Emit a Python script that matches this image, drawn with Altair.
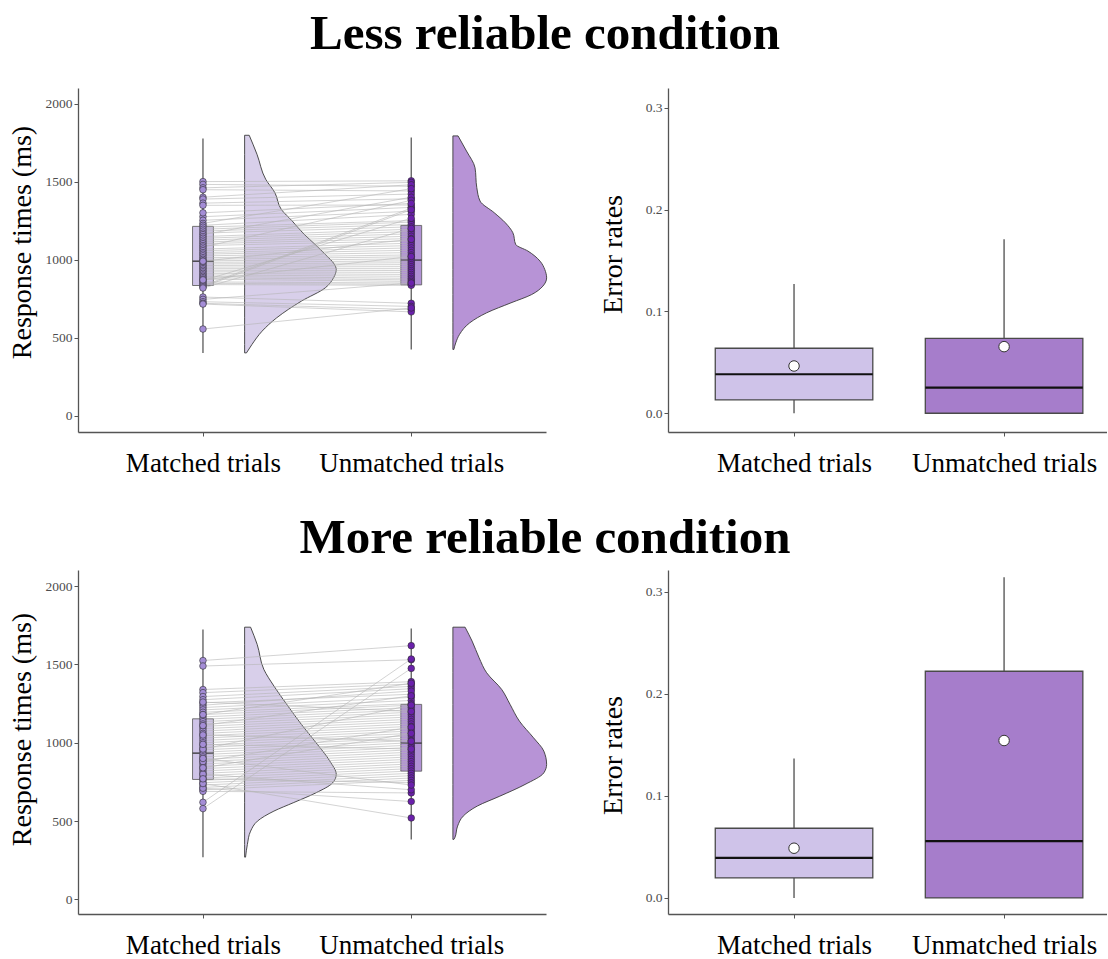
import altair as alt
import pandas as pd

FONT = "Liberation Serif"
CATS = ["Matched trials", "Unmatched trials"]
CAT_POS = [1, 2]

# ---------------- participant mean RTs (ms), paired by index ----------------
less_rt_matched = [1500, 1482, 1460, 1448, 1400, 1388, 1362, 1348, 1275, 1252,
                   1232, 1220, 1208, 1195, 1183, 1170, 1160, 1148, 1137, 1125,
                   1113, 1102, 1090, 1080, 1068, 1057, 1045, 1035, 1024, 1012,
                   1002, 992, 982, 972, 962, 952, 942, 932, 922, 912,
                   902, 893, 884, 875, 866, 857, 848, 840, 832, 825,
                   818, 760, 745, 730, 720, 715, 555, 1300, 990, 870]
less_rt_unmatched = [1505, 1470, 1495, 1440, 1480, 1420, 1390, 1350, 1335, 1310,
                     1455, 1290, 1250, 1240, 1225, 1210, 1400, 1195, 1180, 1165,
                     1150, 1135, 1120, 1380, 1105, 1090, 1075, 1060, 1045, 1030,
                     1018, 1005, 992, 980, 968, 955, 942, 930, 918, 905,
                     893, 880, 870, 860, 1265, 850, 842, 835, 1330, 1320,
                     1200, 720, 850, 700, 680, 665, 690, 1360, 1130, 1020]
more_rt_matched = [1525, 1490, 1340, 1320, 1295, 1275, 1255, 1240, 1225, 1210,
                   1195, 1180, 1165, 1150, 1135, 1120, 1105, 1090, 1075, 1060,
                   1045, 1030, 1015, 1000, 985, 970, 955, 940, 925, 910,
                   895, 880, 865, 850, 835, 820, 805, 790, 775, 760,
                   745, 730, 715, 700, 690, 620, 580, 710, 740, 800,
                   1110, 960, 880, 1050, 770, 900, 1180, 840, 990, 1260]
more_rt_unmatched = [1620, 1530, 1390, 1375, 1360, 1345, 1310, 1330, 1290, 1270,
                     1250, 1240, 1225, 1210, 1195, 1180, 1165, 1150, 1135, 1120,
                     1105, 1090, 1075, 1060, 1045, 1030, 1015, 1000, 985, 970,
                     955, 940, 925, 910, 895, 880, 865, 850, 835, 820,
                     805, 790, 775, 760, 680, 1535, 1475, 625, 520, 700,
                     1300, 1240, 1100, 1010, 745, 730, 1380, 1060, 960, 1200]

# RT box statistics: [lower whisker, q1, median, q3, upper whisker]
less_rt_box_matched = [402, 834, 990, 1213, 1777]
less_rt_box_unmatched = [424, 838, 997, 1219, 1782]
more_rt_box_matched = [270, 766, 934, 1153, 1723]
more_rt_box_unmatched = [383, 819, 998, 1245, 1730]

# Half-violin outlines: RT value and relative half-width (1 = widest)
less_vio_matched_y = [1797, 1675, 1515, 1429, 1322, 1247, 1162, 1097, 1033, 969,
                      937, 883, 819, 734, 627, 541, 456, 402]
less_vio_matched_w = [0.05, 0.135, 0.23, 0.33, 0.40, 0.52, 0.65, 0.77, 0.88, 0.98,
                      1.0, 0.97, 0.88, 0.62, 0.35, 0.19, 0.08, 0.02]
less_vio_unmatched_y = [1793, 1696, 1589, 1461, 1375, 1301, 1236, 1172, 1097, 1055,
                        990, 937, 883, 830, 776, 723, 659, 595, 520, 466, 424]
less_vio_unmatched_w = [0.055, 0.145, 0.236, 0.255, 0.29, 0.44, 0.56, 0.64, 0.67, 0.80,
                        0.93, 0.98, 1.0, 0.96, 0.84, 0.62, 0.36, 0.18, 0.07, 0.03, 0.01]
more_vio_matched_y = [1738, 1628, 1468, 1362, 1245, 1117, 1000, 883, 798, 744,
                      681, 617, 564, 500, 436, 351, 270]
more_vio_matched_w = [0.065, 0.137, 0.21, 0.32, 0.46, 0.62, 0.78, 0.93, 1.0, 0.96,
                      0.78, 0.53, 0.32, 0.14, 0.065, 0.03, 0.01]
more_vio_unmatched_y = [1738, 1649, 1542, 1447, 1341, 1245, 1138, 1032, 947, 862,
                        808, 734, 659, 596, 532, 468, 393, 383]
more_vio_unmatched_w = [0.13, 0.205, 0.28, 0.36, 0.52, 0.61, 0.71, 0.86, 0.97, 1.0,
                        0.97, 0.77, 0.50, 0.26, 0.11, 0.05, 0.02, 0.01]

# Error-rate box statistics: [lower whisker, q1, median, q3, upper whisker]
less_err_matched = [0.0, 0.0131, 0.0383, 0.0638, 0.127]
less_err_unmatched = [0.0, 0.0, 0.0251, 0.0736, 0.1707]
less_err_means = [0.0464, 0.0654]
more_err_matched = [0.0, 0.0196, 0.0392, 0.0683, 0.1366]
more_err_unmatched = [0.0, 0.0, 0.0556, 0.2222, 0.3144]
more_err_means = [0.0487, 0.1543]

# ---------------- styling ----------------
PT_COLORS = ["#a48dd6", "#6a20ab"]
RTBOX_COLORS = ["#c7bae4", "#a57fd0"]
VIO_COLORS = ["#d8cfea", "#b793d6"]
ERRBOX_COLORS = ["#cfc3e9", "#a67dcb"]
AXIS_GREY = "#555555"

L_W, R_W, H = 468, 439, 344
L_XDOM = [0.4, 2.647]
R_XDOM = [0.4, 2.49]
VIO_OFFSET = 0.2
VIO_WIDTH = [0.44, 0.45]
RT_BOX_HALF = 0.05
ERR_BOX_HALF = 0.375

label_expr = "datum.value == 1 ? 'Matched trials' : 'Unmatched trials'"


def x_enc(field, dom):
    return alt.X(field, type="quantitative", stack=False,
                 scale=alt.Scale(domain=dom, nice=False, zero=False),
                 axis=alt.Axis(values=CAT_POS, labelExpr=label_expr, title=None,
                               grid=False, labelFontSize=27, labelColor="black",
                               labelFont=FONT, labelPadding=14, tickSize=4,
                               labelLimit=0, domainColor=AXIS_GREY, tickColor=AXIS_GREY,
                               domainWidth=1.3, labelFlush=False))


def cscale(colors):
    return alt.Color("cond:N", scale=alt.Scale(domain=CATS, range=colors), legend=None)


def rt_panel(matched, unmatched, box_m, box_u, vy_m, vw_m, vy_u, vw_u, ydom,
             title, title_offset, ytitle_y):
    n = len(matched)
    pts = pd.DataFrame({
        "pid": list(range(n)) * 2,
        "x": [CAT_POS[0]] * n + [CAT_POS[1]] * n,
        "rt": matched + unmatched,
        "cond": [CATS[0]] * n + [CATS[1]] * n,
    })
    boxes = pd.DataFrame({
        "cond": CATS,
        "x": CAT_POS,
        "xl": [p - RT_BOX_HALF for p in CAT_POS],
        "xr": [p + RT_BOX_HALF for p in CAT_POS],
        "lo": [box_m[0], box_u[0]], "q1": [box_m[1], box_u[1]],
        "med": [box_m[2], box_u[2]], "q3": [box_m[3], box_u[3]],
        "hi": [box_m[4], box_u[4]],
    })
    yscale = alt.Scale(domain=ydom, nice=False, zero=False)
    yaxis = alt.Axis(values=[0, 500, 1000, 1500, 2000], format="d", grid=False,
                     title="Response times (ms)", titleFont=FONT, titleFontSize=28,
                     titleFontWeight="normal", titleColor="black",
                     titleAngle=-90, titleBaseline="alphabetic", titleAlign="center",
                     titleX=-48, titleY=ytitle_y,
                     labelFont=FONT, labelFontSize=13.5, labelColor="#4d4d4d",
                     labelPadding=2, tickSize=4, domainColor=AXIS_GREY,
                     tickColor=AXIS_GREY, domainWidth=1.3)

    violins = []
    for i, (ys, ws) in enumerate([(vy_m, vw_m), (vy_u, vw_u)]):
        vdf = pd.DataFrame({
            "y": ys,
            "base": [CAT_POS[i] + VIO_OFFSET] * len(ys),
            "tip": [CAT_POS[i] + VIO_OFFSET + w * VIO_WIDTH[i] for w in ws],
        })
        violins.append(
            alt.Chart(vdf).mark_area(orient="horizontal", fill=VIO_COLORS[i],
                                     stroke="#3a3a3a", strokeWidth=0.9,
                                     fillOpacity=1, interpolate="monotone").encode(
                y=alt.Y("y:Q", scale=yscale, axis=yaxis),
                x=x_enc("tip", L_XDOM), x2="base:Q"))

    whisk = alt.Chart(boxes).mark_rule(color="#5a5a5a", strokeWidth=1.3).encode(
        x=x_enc("x", L_XDOM), y=alt.Y("lo:Q", scale=yscale, axis=yaxis), y2="hi:Q")
    box = alt.Chart(boxes).mark_bar(stroke="#4a4a4a", strokeWidth=0.9, opacity=0.85).encode(
        x=x_enc("xl", L_XDOM), x2="xr:Q",
        y=alt.Y("q1:Q", scale=yscale, axis=yaxis), y2="q3:Q",
        color=cscale(RTBOX_COLORS))
    med = alt.Chart(boxes).mark_rule(color="#333333", strokeWidth=1.3).encode(
        x=x_enc("xl", L_XDOM), x2="xr:Q", y=alt.Y("med:Q", scale=yscale, axis=yaxis))
    lines = alt.Chart(pts).mark_line(color="#b5b5b5", strokeWidth=1, opacity=0.6).encode(
        x=x_enc("x", L_XDOM), y=alt.Y("rt:Q", scale=yscale, axis=yaxis),
        detail="pid:N", order="x:Q")
    dots = alt.Chart(pts).mark_circle(size=44, stroke="#2e2e2e", strokeWidth=0.6,
                                      opacity=1).encode(
        x=x_enc("x", L_XDOM), y=alt.Y("rt:Q", scale=yscale, axis=yaxis),
        color=cscale(PT_COLORS))
    layer = alt.layer(*violins, whisk, box, med, lines, dots).resolve_scale(
        color="independent").properties(
        width=L_W, height=H,
        title=alt.TitleParams(
            text=title, font=FONT, fontSize=49, fontWeight="bold", color="black",
            anchor="middle", frame="group", dx=233, offset=title_offset,
            baseline="alphabetic"))
    return layer


def err_panel(stat_m, stat_u, means, ydom, title_y):
    boxes = pd.DataFrame({
        "cond": CATS,
        "x": CAT_POS,
        "xl": [p - ERR_BOX_HALF for p in CAT_POS],
        "xr": [p + ERR_BOX_HALF for p in CAT_POS],
        "lo": [stat_m[0], stat_u[0]], "q1": [stat_m[1], stat_u[1]],
        "med": [stat_m[2], stat_u[2]], "q3": [stat_m[3], stat_u[3]],
        "hi": [stat_m[4], stat_u[4]], "mean": means,
    })
    yscale = alt.Scale(domain=ydom, nice=False, zero=False)
    yaxis = alt.Axis(values=[0, 0.1, 0.2, 0.3], format=".1f", grid=False,
                     title="Error rates", titleFont=FONT, titleFontSize=28,
                     titleFontWeight="normal", titleColor="black",
                     titleAngle=-90, titleBaseline="alphabetic", titleAlign="center",
                     titleX=-47, titleY=title_y,
                     labelFont=FONT, labelFontSize=13.5, labelColor="#4d4d4d",
                     labelPadding=2, tickSize=4, domainColor=AXIS_GREY,
                     tickColor=AXIS_GREY, domainWidth=1.3)
    whisk = alt.Chart(boxes).mark_rule(color="#5a5a5a", strokeWidth=1.4).encode(
        x=x_enc("x", R_XDOM), y=alt.Y("lo:Q", scale=yscale, axis=yaxis), y2="hi:Q")
    box = alt.Chart(boxes).mark_bar(stroke="#4a4a4a", strokeWidth=1.3, opacity=1).encode(
        x=x_enc("xl", R_XDOM), x2="xr:Q",
        y=alt.Y("q1:Q", scale=yscale, axis=yaxis), y2="q3:Q",
        color=cscale(ERRBOX_COLORS))
    med = alt.Chart(boxes).mark_rule(color="#111111", strokeWidth=2.2).encode(
        x=x_enc("xl", R_XDOM), x2="xr:Q", y=alt.Y("med:Q", scale=yscale, axis=yaxis))
    mean = alt.Chart(boxes).mark_circle(size=110, color="white", stroke="#333333",
                                        strokeWidth=1, opacity=1).encode(
        x=x_enc("x", R_XDOM), y=alt.Y("mean:Q", scale=yscale, axis=yaxis))
    return alt.layer(whisk, box, med, mean).properties(width=R_W, height=H)


L1 = rt_panel(less_rt_matched, less_rt_unmatched, less_rt_box_matched, less_rt_box_unmatched,
              less_vio_matched_y, less_vio_matched_w, less_vio_unmatched_y, less_vio_unmatched_w,
              [-105, 2100], "Less reliable condition", -10, 154)
R1 = err_panel(less_err_matched, less_err_unmatched, less_err_means, [-0.0184, 0.3193], 166)
L2 = rt_panel(more_rt_matched, more_rt_unmatched, more_rt_box_matched, more_rt_box_unmatched,
              more_vio_matched_y, more_vio_matched_w, more_vio_unmatched_y, more_vio_unmatched_w,
              [-93, 2103], "More reliable condition", -32, 159)
R2 = err_panel(more_err_matched, more_err_unmatched, more_err_means, [-0.0158, 0.3215], 185)

chart = alt.concat(L1, R1, L2, R2, columns=2, bounds="flush",
                   spacing={"row": 138, "column": 122}).properties(
    padding={"left": 8, "top": 10, "right": 0, "bottom": 0},
    background="white",
).configure_view(stroke=None)

chart.save("out.html", embed_options={"renderer": "svg", "actions": False})
